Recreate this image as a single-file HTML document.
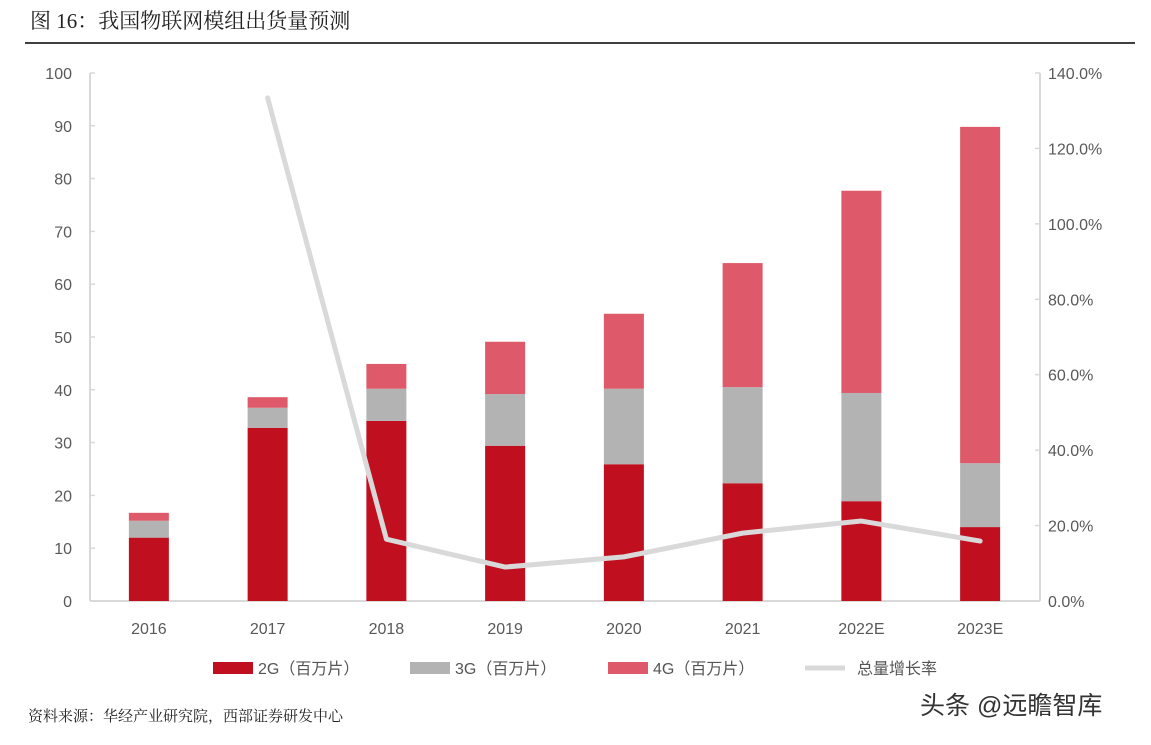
<!DOCTYPE html>
<html><head><meta charset="utf-8"><style>
body{margin:0;background:#fff;width:1151px;height:740px;overflow:hidden;font-family:"Liberation Sans","Noto Sans CJK SC",sans-serif}
.serif{font-family:"Liberation Serif","Noto Serif CJK SC",serif}
</style></head><body>
<svg width="1151" height="740" xmlns="http://www.w3.org/2000/svg">
<text x="30" y="28" font-size="21" fill="#222" class="serif">图 16：我国物联网模组出货量预测</text>
<line x1="25" y1="43" x2="1135" y2="43" stroke="#000" stroke-width="1.5"/>
<g id="plot"></g>
<g font-size="16" fill="#555">
<rect x="213" y="662" width="40" height="12" fill="#C00F1E"/>
<text x="258" y="674">2G（百万片）</text>
<rect x="410" y="662" width="40" height="12" fill="#B3B3B3"/>
<text x="455" y="674">3G（百万片）</text>
<rect x="608" y="662" width="40" height="12" fill="#DE5A6A"/>
<text x="653" y="674">4G（百万片）</text>
<line x1="805" y1="668" x2="845" y2="668" stroke="#D9D9D9" stroke-width="5"/>
<text x="857" y="674">总量增长率</text>
</g>
<text x="28" y="721" font-size="15" fill="#222" class="serif">资料来源：华经产业研究院，西部证券研发中心</text>
<text x="920" y="714" font-size="25" fill="#333">头条 @远瞻智库</text>
</svg>
<script>
const categories=["2016","2017","2018","2019","2020","2021","2022E","2023E"];
const s2g=[12.0,32.8,34.1,29.4,25.9,22.3,18.9,14.0];
const s3g=[3.2,3.8,6.1,9.8,14.3,18.2,20.5,12.1];
const s4g=[1.5,2.0,4.7,9.9,14.2,23.5,38.3,63.7];
const growth=[null,133.4,16.4,9.0,11.7,18.0,21.2,15.9];
const leftTicks=[0,10,20,30,40,50,60,70,80,90,100];
const rightTicks=[0,20,40,60,80,100,120,140];
const NS="http://www.w3.org/2000/svg";
const g=document.getElementById('plot');
const X0=90,X1=1040,Y0=601,Y1=73;
const yL=v=>Y0-(v/100)*(Y0-Y1);
const yR=v=>Y0-(v/140)*(Y0-Y1);
const step=(X1-X0)/categories.length;
const xc=i=>X0+step*(i+0.5)-0.5;
function mk(t,a){const e=document.createElementNS(NS,t);for(const k in a)e.setAttribute(k,a[k]);g.appendChild(e);return e;}
let e;
e=mk('line',{x1:X0,y1:Y1,x2:X0,y2:Y0,stroke:'#D9D9D9','stroke-width':2});


e=mk('line',{x1:X1,y1:Y1,x2:X1,y2:Y0,stroke:'#D9D9D9','stroke-width':2});


e=mk('line',{x1:X0,y1:Y0,x2:X1,y2:Y0,stroke:'#D9D9D9','stroke-width':2});


leftTicks.forEach(v=>{
 e=mk('line',{x1:X0,y1:yL(v),x2:X0+5,y2:yL(v),stroke:'#D9D9D9','stroke-width':1.5});
 
 
 e=mk('text',{x:72,y:yL(v)+6,'text-anchor':'end','font-size':16,fill:'#595959'});e.textContent=v;
 
 
});
rightTicks.forEach(v=>{
 e=mk('line',{x1:X1-5,y1:yR(v),x2:X1,y2:yR(v),stroke:'#D9D9D9','stroke-width':1.5});
 
 
 e=mk('text',{x:1048,y:yR(v)+6,'font-size':16,fill:'#595959'});e.textContent=v.toFixed(1)+'%';
 
 
});
const bw=40;
categories.forEach((c,i)=>{
 const x=xc(i)-bw/2;
 const a=s2g[i],b=a+s3g[i],t=b+s4g[i];
 e=mk('rect',{x:x,y:yL(a),width:bw,height:Y0-yL(a),fill:'#C00F1E'});
 
 
 e=mk('rect',{x:x,y:yL(b),width:bw,height:yL(a)-yL(b),fill:'#B3B3B3'});
 
 
 e=mk('rect',{x:x,y:yL(t),width:bw,height:yL(b)-yL(t),fill:'#DE5A6A'});
 
 
 e=mk('text',{x:xc(i),y:634,'text-anchor':'middle','font-size':16,fill:'#595959'});e.textContent=c;
 
 
});
const pts=[];growth.forEach((v,i)=>{if(v!==null)pts.push(xc(i)+','+yR(v));});
e=mk('polyline',{points:pts.join(' '),fill:'none',stroke:'#D9D9D9','stroke-width':5,'stroke-linejoin':'round','stroke-linecap':'round'});


</script>
</body></html>
